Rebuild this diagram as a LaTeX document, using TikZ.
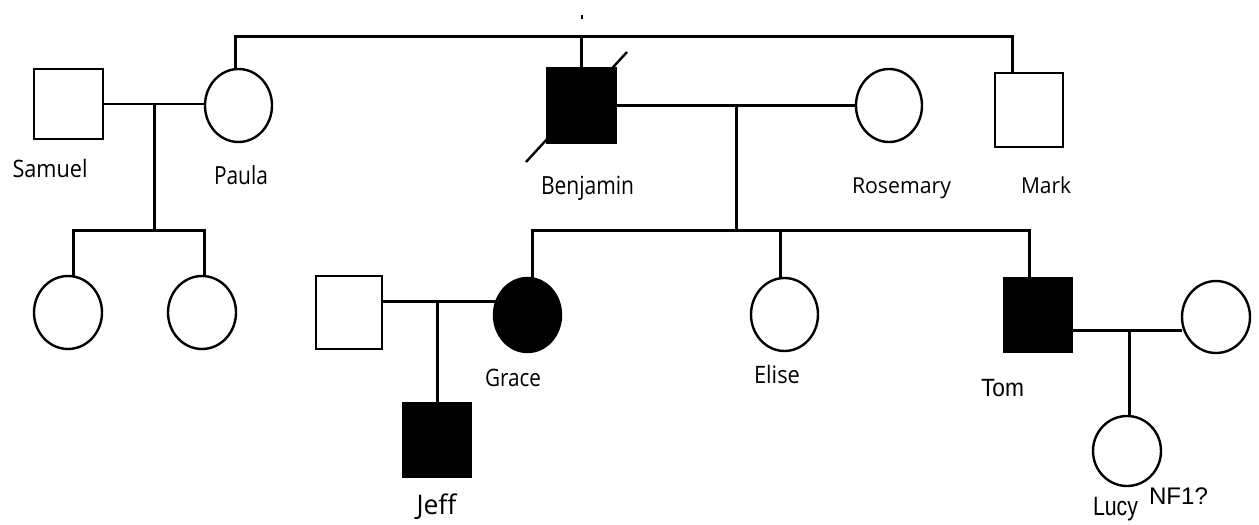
\documentclass[tikz,border=0pt]{standalone}
\usepackage{fontspec}
\usepackage{graphicx}
\usetikzlibrary{shapes.geometric,calc}
\newfontfamily\humanist{Open Sans}
\newfontfamily\grotesk{Liberation Sans}
% #1 family, #2 size, #3 target width, #4 text
\newcommand\fitlabel[4]{\resizebox{#3}{\height}{#1\fontsize{#2}{#2}\selectfont #4}}
\tikzset{
  person/.style={draw, line width=2.4pt, inner sep=0pt, outer sep=0pt},
  male/.style={person, rectangle},
  female/.style={person, ellipse},
  affected/.style={fill=black},
  link/.style={line width=3pt},
  thinlink/.style={line width=2.4pt},
  lbl/.style={inner sep=0pt, anchor=base},
}
\begin{document}
\begin{tikzpicture}[x=1pt, y=-1pt]
\useasboundingbox[fill=white] (0,0) rectangle (1259,525);

% generation I
\node[male, minimum width=69pt, minimum height=70pt] (samuel) at (68.5,104) {};
\node[female, minimum width=67pt, minimum height=73pt] (paula) at (238.5,105.5) {};
\node[male, affected, minimum width=69pt, minimum height=75pt] (benjamin) at (581.5,105.5) {};
\node[female, minimum width=66pt, minimum height=73pt] (rosemary) at (889,105.5) {};
\node[male, minimum width=68pt, minimum height=74pt] (mark) at (1029,110) {};

% generation II
\node[female, minimum width=68pt, minimum height=73pt] (kidA) at (68,312.5) {};
\node[female, minimum width=68pt, minimum height=73pt] (kidB) at (202,312.5) {};
\node[male, minimum width=66pt, minimum height=73pt] (gracemate) at (349,312.5) {};
\node[female, affected, minimum width=67pt, minimum height=74pt] (grace) at (527.5,315) {};
\node[female, minimum width=67pt, minimum height=73pt] (elise) at (784.5,314.5) {};
\node[male, affected, minimum width=68pt, minimum height=74pt] (tom) at (1038,315) {};
\node[female, minimum width=68pt, minimum height=72pt] (tommate) at (1216,317) {};

% generation III
\node[male, affected, minimum width=68pt, minimum height=74pt] (jeff) at (437,440) {};
\node[female, minimum width=68pt, minimum height=70pt] (lucy) at (1127,451) {};

% deceased mark across Benjamin
\coordinate (deadA) at (526,162);
\coordinate (deadB) at (627,52);
\draw[line width=2.4pt] (deadA) -- (deadB);

% small tick above the sibship bar
\coordinate (tick) at (582,15);
\draw[line width=1.5pt] (tick) -- ++(0,4);

% sibship of Paula, Benjamin and Mark
\coordinate (topbar) at (600,36);
\draw[link] ([xshift=-3.5pt]paula.north) |- (topbar) -| ([xshift=-17pt]mark.north);
\draw[link] (benjamin.north) -- (benjamin.north |- topbar);

% Samuel x Paula
\draw[thinlink] (samuel.east) -- (samuel.east -| paula.west);
\coordinate (spmid) at ($(samuel.east)!0.5!(samuel.east -| paula.west)$);
\coordinate (spkids) at ($(spmid)+(0,126)$);
\draw[link] (spmid) -- (spkids);
\draw[link] ([xshift=5pt]kidA.north) |- (spkids) -| ([xshift=2pt]kidB.north);

% Benjamin x Rosemary
\draw[link] (benjamin.east) -- (rosemary.west);
\coordinate (brmid) at ($(benjamin.east)!0.5!(rosemary.west)$);
\coordinate (brkids) at ($(brmid)+(0,125)$);
\draw[link] (brmid) -- (brkids);
\draw[link] ([xshift=4.5pt]grace.north) |- (brkids) -| ([xshift=-9pt]tom.north);
\draw[link] ([xshift=-4.5pt]elise.north) -- ([xshift=-4.5pt]elise.north |- brkids);

% Grace and partner
\coordinate (gmline) at ([yshift=11.5pt]gracemate.east);
\draw[link] (gmline) -- (gmline -| grace.center);
\draw[link] (jeff.north |- gmline) -- (jeff.north);

% Tom and partner
\coordinate (tmline) at ([yshift=-15pt]tom.east);
\draw[link] (tmline) -- (tmline -| tommate.west);
\draw[link] ([xshift=2pt]lucy.north |- tmline) -- ([xshift=2pt]lucy.north);

% names
\node[lbl] (lsamuel) at (50,177) {\fitlabel{\humanist}{24pt}{75pt}{Samuel}};
\node[lbl] (lpaula) at (241,184) {\fitlabel{\humanist}{25pt}{54pt}{Paula}};
\node[lbl] (lbenjamin) at (587.5,194) {\fitlabel{\humanist}{25pt}{93pt}{Benjamin}};
\node[lbl] (lrosemary) at (901.5,193) {\fitlabel{\humanist}{22pt}{99pt}{Rosemary}};
\node[lbl] (lmark) at (1046,193) {\fitlabel{\humanist}{22pt}{50pt}{Mark}};
\node[lbl] (lgrace) at (513,386) {\fitlabel{\humanist}{24pt}{56pt}{Grace}};
\node[lbl] (lelise) at (777,383) {\fitlabel{\humanist}{24pt}{46pt}{Elise}};
\node[lbl] (ljeff) at (436.5,514) {\fitlabel{\humanist}{27pt}{40pt}{Jeff}};
\node[lbl] (ltom) at (1002.5,396) {\fitlabel{\grotesk}{25pt}{43pt}{Tom}};
\node[lbl] (llucy) at (1115.5,515) {\fitlabel{\grotesk}{26.5pt}{45pt}{Lucy}};
\node[lbl] (lnf) at (1178.5,504) {\fitlabel{\grotesk}{24pt}{59pt}{NF1?}};
\end{tikzpicture}
\end{document}
